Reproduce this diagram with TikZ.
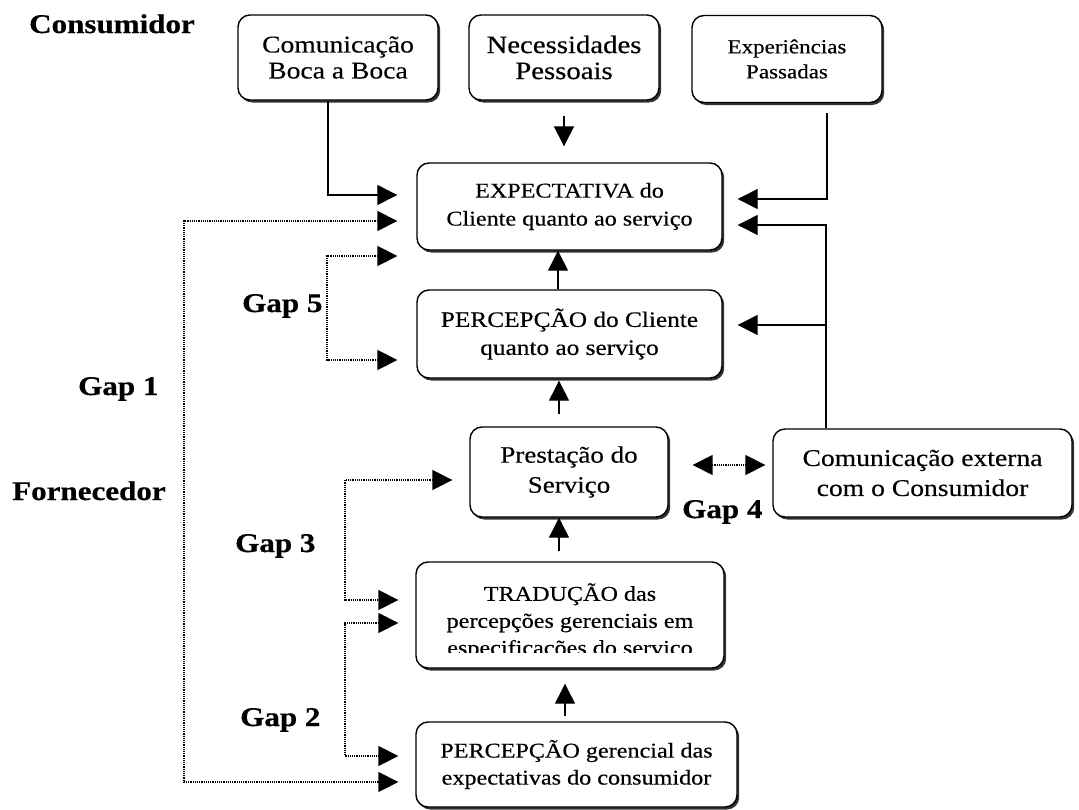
\documentclass[tikz,border=0pt]{standalone}
\usepackage{fontspec}
\setmainfont{Liberation Serif}[FakeStretch=1.15,
  UprightFeatures={FakeBold=0.35},BoldFeatures={FakeBold=0.6}]
\usetikzlibrary{arrows.meta,shadows,positioning}

\newcommand{\fs}[2]{\fontsize{#1}{#2}\selectfont}

\begin{document}
\begin{tikzpicture}[x=1pt,y=-1pt,
  box/.style={draw,line width=1.4pt,rounded corners=12pt,fill=white,
    align=center,inner sep=0pt,
    drop shadow={shadow xshift=2.2pt,shadow yshift=-2.5pt,fill=black!80,opacity=1}},
  arr/.style={line width=1.3pt,-{Triangle[length=20pt,width=20pt]}},
  dots/.style={line width=1.7pt,dash pattern=on 1.1pt off 1.1pt},
  dotarr/.style={dots,{Triangle[length=20pt,width=20pt]}-{Triangle[length=20pt,width=20pt]}},
  lab/.style={font=\bfseries\fs{27}{30},anchor=base west,inner sep=0pt}]

\useasboundingbox (0,0) rectangle (1079,809);

% customer-side boxes
\node[box,minimum width=200pt,minimum height=85pt,font=\fs{24}{26}] (A) at (338,57.5)
  {Comunicação\\Boca a Boca};
\node[box,minimum width=190pt,minimum height=85pt,font=\fs{25}{26}] (B) at (564,57.5)
  {Necessidades\\Pessoais};
\node[box,minimum width=190pt,minimum height=87pt,font=\fs{20}{25}] (C) at (787,59)
  {Experiências\\Passadas};

% central chain
\node[box,minimum width=305pt,minimum height=87pt,font=\fs{21}{28}] (D) at (569.5,206.5)
  {EXPECTATIVA do\\Cliente quanto ao serviço};
\node[box,minimum width=305pt,minimum height=88pt,font=\fs{22}{28}] (E) at (569.5,334)
  {PERCEPÇÃO do Cliente\\quanto ao serviço};
\node[box,minimum width=198pt,minimum height=90pt,font=\fs{23.5}{30}] (F) at (569,472)
  {Prestação do\\Serviço};
\node[box,minimum width=299pt,minimum height=88pt,font=\fs{24}{30}] (G) at (922.5,473)
  {Comunicação externa\\com o Consumidor};
\node[box,minimum width=308pt,minimum height=106pt] (H) at (570,615) {};
\begin{scope}
  \clip (416,562) rectangle (724,652);
  \node[align=center,inner sep=0pt,anchor=north,font=\fs{21}{27}] (Htext) at (570,583)
    {TRADUÇÃO das\\percepções gerenciais em\\especificações do serviço};
\end{scope}
\node[box,minimum width=321pt,minimum height=85pt,font=\fs{21}{27}] (I) at (576.5,764.5)
  {PERCEPÇÃO gerencial das\\expectativas do consumidor};

% side labels
\node[lab] (consumidor) at (29,33) {Consumidor};
\node[lab] (fornecedor) at (12,500) {Fornecedor};
\node[lab] (gap1) at (78,395) {Gap 1};
\node[lab] (gap5) at (242,312) {Gap 5};
\node[lab] (gap3) at (235,552) {Gap 3};
\node[lab] (gap2) at (240,726) {Gap 2};
\node[lab] (gap4) at (682,518) {Gap 4};

% solid connectors into the expectation box
\draw[arr] ([xshift=-10pt]A.south) |- ([xshift=-19pt,yshift=11.5pt]D.west);
\draw[arr] ([yshift=-15pt]B.south) -- ([xshift=-5.5pt,yshift=16pt]D.north);
\draw[arr] ([xshift=40pt,yshift=-10pt]C.south) |- ([xshift=15pt,yshift=7.5pt]D.east);
\draw[arr] ([xshift=-96.5pt]G.north) |- ([xshift=15pt,yshift=-18.5pt]D.east);
\draw[arr] ([xshift=-96.5pt]G.north) |- ([xshift=15pt,yshift=9pt]E.east);

% upward chain
\draw[arr] ([xshift=-11.5pt]E.north) -- ([xshift=-11.5pt]D.south);
\draw[arr] ([xshift=-10pt,yshift=12pt]F.north) -- ([xshift=-10.5pt,yshift=-2pt]E.south);
\draw[arr] ([xshift=-11pt,yshift=10pt]H.north) -- ([xshift=-10pt]F.south);
\draw[arr] ([xshift=-11.5pt,yshift=5pt]I.north) -- ([xshift=-5pt,yshift=-15pt]H.south);

% gaps (dotted)
\coordinate (g1) at (184,782);
\coordinate (g5) at (327,360);
\coordinate (g3) at (345,600);
\coordinate (g2) at (345,756);
\draw[dotarr] ([xshift=-19pt,yshift=-14.5pt]D.west) -| (g1) -- ([xshift=-17pt,yshift=-17.5pt]I.west);
\draw[dotarr] ([xshift=-19pt,yshift=-49.5pt]D.west) -| (g5) -- ([xshift=-19pt,yshift=-26pt]E.west);
\draw[dotarr] ([xshift=-17pt,yshift=-8pt]F.west) -| (g3) -- ([xshift=-17pt,yshift=15pt]H.west);
\draw[dotarr] ([xshift=-17pt,yshift=-8pt]H.west) -| (g2) -- ([xshift=-17pt,yshift=8.5pt]I.west);
\draw[dotarr] ([xshift=24pt,yshift=7pt]F.east) -- ([xshift=-7pt,yshift=8pt]G.west);

\end{tikzpicture}
\end{document}
